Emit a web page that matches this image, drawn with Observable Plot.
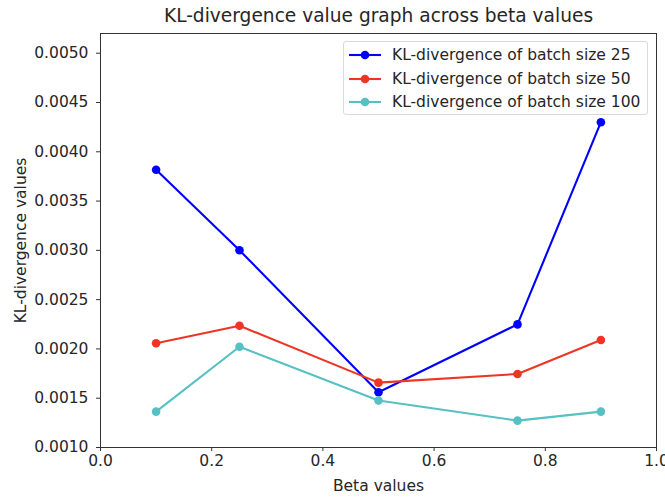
<!DOCTYPE html>
<html>
<head>
<meta charset="utf-8">
<script src="https://cdn.jsdelivr.net/npm/d3@7"></script>
<script src="https://cdn.jsdelivr.net/npm/@observablehq/plot@0.6"></script>
<style>
  html, body { margin: 0; padding: 0; background: #fff; }
  #wrap { position: relative; width: 665px; height: 497px; font-family: "DejaVu Sans", sans-serif; }
  #legend { position: absolute; left: 343px; top: 41px; width: 305px; height: 74px;
    border: 1px solid #d9d9d9; border-radius: 3px; background: rgba(255,255,255,0.8); box-sizing: border-box; }
  .item { position: absolute; left: 4px; height: 20px; display: flex; align-items: center;
    font-size: 15.5px; color: #262626; white-space: nowrap; }
  .item svg { margin-right: 10px; }
</style>
</head>
<body>
<div id="wrap"><div id="legend"></div></div>
<script>
const betas = [0.1, 0.25, 0.5, 0.75, 0.9];
const kl25  = [0.003818, 0.003001, 0.001561, 0.002249, 0.004300];
const kl50  = [0.002057, 0.002235, 0.001658, 0.001746, 0.002090];
const kl100 = [0.001364, 0.002022, 0.001476, 0.001273, 0.001364];
const seriesNames = ["KL-divergence of batch size 25", "KL-divergence of batch size 50", "KL-divergence of batch size 100"];
const seriesColors = ["#0000ff", "#ee3524", "#56c0c3"];
const xTicks = [0, 0.2, 0.4, 0.6, 0.8, 1.0];
const yTicks = [0.0010, 0.0015, 0.0020, 0.0025, 0.0030, 0.0035, 0.0040, 0.0045, 0.0050];

const seriesValues = [kl25, kl50, kl100];
const data = [];
seriesValues.forEach((vals, i) => vals.forEach((v, j) => data.push({beta: betas[j], kl: v, series: seriesNames[i]})));

const chart = Plot.plot({
  width: 665, height: 497,
  marginLeft: 100, marginRight: 9, marginTop: 33, marginBottom: 50,
  style: {fontFamily: "DejaVu Sans, sans-serif", fontSize: "15.5px", color: "#262626", background: "#fff"},
  x: {domain: [0, 1], ticks: xTicks},
  y: {domain: [0.0010, 0.0052], ticks: yTicks},
  color: {domain: seriesNames, range: seriesColors},
  marks: [
    Plot.axisX({ticks: xTicks, tickFormat: d3.format(".1f"), tickSize: 4, tickPadding: 3, stroke: "#333",
      label: "Beta values", labelAnchor: "center", labelArrow: "none", labelOffset: 43, fontSize: 15.5}),
    Plot.axisY({ticks: yTicks, tickFormat: d3.format(".4f"), tickSize: 4, tickPadding: 8, stroke: "#333",
      label: "KL-divergence values", labelAnchor: "center", labelArrow: "none", labelOffset: 86, fontSize: 15.5}),
    Plot.line(data, {x: "beta", y: "kl", z: "series", stroke: "series", strokeWidth: 2.1}),
    Plot.dot(data, {x: "beta", y: "kl", fill: "series", r: 4.3}),
    Plot.frame({stroke: "#333", strokeWidth: 1}),
    Plot.text(["KL-divergence value graph across beta values"], {frameAnchor: "top", lineAnchor: "middle", dy: -17, fontSize: 18.6, fill: "#262626"})
  ]
});
document.getElementById("wrap").prepend(chart);

const legend = document.getElementById("legend");
seriesNames.forEach((name, i) => {
  const it = document.createElement("div");
  it.className = "item";
  it.style.top = (3 + i * 23.5) + "px";
  it.innerHTML = `<svg width="34" height="12"><line x1="1" y1="6" x2="33" y2="6" stroke="${seriesColors[i]}" stroke-width="2.1"/><circle cx="17" cy="6" r="4.3" fill="${seriesColors[i]}"/></svg>${name}`;
  legend.appendChild(it);
});
</script>
</body>
</html>
